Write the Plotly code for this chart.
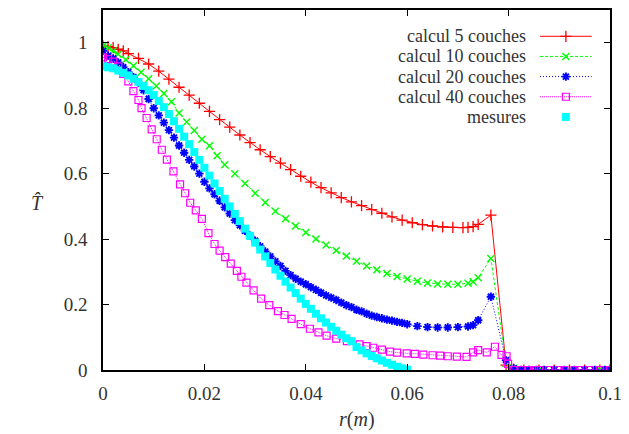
import plotly.graph_objects as go

# ---------------- data ----------------
x_c5 = [0, 0.001, 0.002, 0.003, 0.004, 0.005, 0.007, 0.009, 0.011, 0.013, 0.015, 0.017,
        0.019, 0.021, 0.023, 0.025, 0.027, 0.029, 0.031, 0.033, 0.035, 0.037, 0.039, 0.041,
        0.043, 0.045, 0.047, 0.049, 0.051, 0.053, 0.055, 0.057, 0.059, 0.061, 0.063, 0.065,
        0.067, 0.069, 0.071, 0.072, 0.073, 0.074, 0.0765, 0.0795, 0.081, 0.083, 0.086,
        0.089, 0.092, 0.095, 0.098, 0.1]
y_c5 = [0.99, 0.988, 0.985, 0.98, 0.975, 0.967, 0.952, 0.935, 0.913, 0.889, 0.864, 0.84,
        0.815, 0.79, 0.765, 0.742, 0.718, 0.695, 0.673, 0.652, 0.632, 0.612, 0.592, 0.574,
        0.557, 0.541, 0.527, 0.514, 0.502, 0.49, 0.479, 0.468, 0.458, 0.45, 0.444, 0.44,
        0.437, 0.436, 0.435, 0.436, 0.438, 0.445, 0.473, 0.015, 0.003, 0.0, 0.0,
        0.0, 0.0, 0.0, 0.0, 0.0]

x_c10 = [0, 0.001, 0.002, 0.003, 0.0045, 0.006, 0.0075, 0.009, 0.0105, 0.012, 0.0135, 0.015,
         0.0165, 0.018, 0.0195, 0.021, 0.0225, 0.024, 0.026, 0.028, 0.030, 0.032, 0.034,
         0.036, 0.038, 0.040, 0.042, 0.044, 0.046, 0.048, 0.050, 0.052, 0.054, 0.056,
         0.058, 0.060, 0.062, 0.064, 0.066, 0.068, 0.070, 0.072, 0.073, 0.074, 0.0765,
         0.0795, 0.081, 0.083, 0.086, 0.089, 0.092, 0.095, 0.098, 0.1]
y_c10 = [0.99, 0.985, 0.975, 0.965, 0.948, 0.93, 0.91, 0.89, 0.868, 0.845, 0.82, 0.785,
         0.758, 0.732, 0.705, 0.685, 0.655, 0.627, 0.6, 0.57, 0.54, 0.512, 0.485,
         0.462, 0.44, 0.42, 0.4, 0.382, 0.365, 0.348, 0.332, 0.318, 0.306, 0.295,
         0.286, 0.278, 0.271, 0.266, 0.263, 0.262, 0.262, 0.265, 0.27, 0.282, 0.341,
         0.02, 0.005, 0.0, 0.0, 0.0, 0.0, 0.0, 0.0, 0.0]

x_c20 = [0, 0.001, 0.002, 0.003, 0.004, 0.005, 0.006, 0.007, 0.008, 0.009, 0.010, 0.011,
         0.012, 0.013, 0.014, 0.015, 0.016, 0.017, 0.018, 0.019, 0.020, 0.021, 0.022,
         0.023, 0.024, 0.025, 0.026, 0.027, 0.028, 0.029, 0.030, 0.031, 0.032, 0.033,
         0.034, 0.035, 0.036, 0.037, 0.038, 0.039, 0.040, 0.041, 0.042, 0.043, 0.044,
         0.045, 0.046, 0.047, 0.048, 0.049, 0.050, 0.051, 0.052, 0.053, 0.054, 0.055,
         0.056, 0.057, 0.058, 0.059, 0.060, 0.062, 0.064, 0.066, 0.068, 0.070, 0.072,
         0.073, 0.074, 0.0765, 0.0795, 0.081, 0.0825, 0.084, 0.0855, 0.087, 0.089, 0.091,
         0.093, 0.095, 0.097, 0.099, 0.1]
y_c20 = [0.975, 0.96, 0.952, 0.94, 0.925, 0.91, 0.895, 0.878, 0.855, 0.828, 0.8, 0.778,
         0.756, 0.733, 0.71, 0.686, 0.664, 0.642, 0.622, 0.6, 0.575, 0.555, 0.537,
         0.517, 0.497, 0.478, 0.458, 0.442, 0.425, 0.41, 0.395, 0.378, 0.362, 0.347,
         0.332, 0.318, 0.303, 0.29, 0.279, 0.27, 0.262, 0.253, 0.245, 0.236, 0.228,
         0.221, 0.214, 0.206, 0.198, 0.192, 0.184, 0.179, 0.172, 0.166, 0.162, 0.158,
         0.154, 0.151, 0.147, 0.144, 0.14, 0.134, 0.131, 0.13, 0.13, 0.131, 0.133,
         0.137, 0.152, 0.224, 0.03, 0.005, 0.0, 0.0, 0.0, 0.0, 0.0, 0.0,
         0.0, 0.0, 0.0, 0.0, 0.0]

x_c40 = [0, 0.001, 0.002, 0.003, 0.004, 0.005, 0.006, 0.007, 0.0076, 0.0086, 0.0096, 0.0106,
         0.0116, 0.0126, 0.0139, 0.0152, 0.0162, 0.0172, 0.0183, 0.0195, 0.0208, 0.022,
         0.023, 0.0241, 0.0252, 0.0264, 0.0273, 0.0283, 0.0297, 0.0312, 0.0328, 0.0345,
         0.0358, 0.0372, 0.039, 0.0408, 0.0425, 0.0441, 0.046, 0.0481, 0.0506, 0.052,
         0.0533, 0.055, 0.0566, 0.058, 0.0599, 0.0615, 0.0632, 0.065, 0.0665, 0.068,
         0.0698, 0.0717, 0.073, 0.074, 0.0757, 0.0773, 0.0786, 0.0796, 0.0799, 0.081,
         0.0825, 0.084, 0.085, 0.086, 0.088, 0.09, 0.091, 0.093, 0.094, 0.096, 0.098, 0.1]
y_c40 = [0.955, 0.95, 0.942, 0.928, 0.905, 0.882, 0.852, 0.825, 0.8, 0.77, 0.735, 0.705,
         0.673, 0.643, 0.607, 0.567, 0.54, 0.511, 0.488, 0.462, 0.418, 0.385,
         0.365, 0.345, 0.325, 0.303, 0.285, 0.267, 0.243, 0.218, 0.198, 0.18,
         0.168, 0.156, 0.14, 0.126, 0.115, 0.105, 0.096, 0.088, 0.078, 0.073,
         0.068, 0.062, 0.056, 0.053, 0.051, 0.049, 0.047, 0.045, 0.044, 0.042,
         0.041, 0.04, 0.054, 0.061, 0.054, 0.071, 0.046, 0.042, 0.019, 0.0,
         0.0, 0.0, 0.0, 0.0, 0.0, 0.0, 0.0, 0.0, 0.0, 0.0, 0.0, 0.0]

x_mes = [0, 0.001, 0.002, 0.003, 0.004, 0.005, 0.006, 0.007, 0.008, 0.009, 0.010, 0.011,
         0.012, 0.013, 0.014, 0.015, 0.016, 0.017, 0.018, 0.019, 0.020, 0.021, 0.022,
         0.023, 0.024, 0.025, 0.026, 0.027, 0.028, 0.029, 0.030, 0.031, 0.032, 0.033,
         0.034, 0.035, 0.036, 0.037, 0.038, 0.039, 0.040, 0.041, 0.042, 0.043, 0.044,
         0.045, 0.046, 0.047, 0.048, 0.049, 0.050, 0.051, 0.052, 0.053, 0.054, 0.055,
         0.056, 0.057, 0.058, 0.059, 0.060]
y_mes = [0.928, 0.925, 0.922, 0.915, 0.908, 0.9, 0.89, 0.88, 0.868, 0.855, 0.84, 0.822,
         0.803, 0.782, 0.76, 0.737, 0.713, 0.69, 0.666, 0.642, 0.618, 0.594, 0.57,
         0.547, 0.523, 0.5, 0.477, 0.455, 0.432, 0.41, 0.389, 0.368, 0.347, 0.327,
         0.307, 0.288, 0.27, 0.252, 0.235, 0.218, 0.202, 0.187, 0.172, 0.158, 0.145,
         0.132, 0.12, 0.108, 0.097, 0.088, 0.07, 0.06, 0.051, 0.043, 0.036, 0.029,
         0.022, 0.016, 0.01, 0.005, 0.001]

series_names = ["calcul 5 couches", "calcul 10 couches", "calcul 20 couches",
                "calcul 40 couches", "mesures"]
x_ticks = [0, 0.02, 0.04, 0.06, 0.08, 0.1]
y_ticks = [0, 0.2, 0.4, 0.6, 0.8, 1]

# ---------------- styles ----------------
FONT = "Liberation Serif"
TXT = "#333333"

styles = [
    dict(line=dict(color="#ff0000", width=1),
         marker=dict(symbol="cross-thin", size=8, color="#ff0000",
                     line=dict(color="#ff0000", width=1.3))),
    dict(line=dict(color="#00ff00", width=1, dash="3px,2px"),
         marker=dict(symbol="x-thin", size=7, color="#00ff00",
                     line=dict(color="#00ff00", width=1.4))),
    dict(line=dict(color="#0000ff", width=1, dash="1px,2px"),
         marker=dict(symbol="asterisk-open", size=7, color="#0000ff",
                     line=dict(color="#0000ff", width=1.9))),
    dict(line=dict(color="#ff00ff", width=1, dash="1px,1px"),
         marker=dict(symbol="square-open", size=7, color="#ff00ff",
                     line=dict(color="#ff00ff", width=1.2))),
    dict(marker=dict(symbol="square", size=8, color="#00ffff", line=dict(width=0))),
]
modes = ["lines+markers"] * 4 + ["markers"]
xs = [x_c5, x_c10, x_c20, x_c40, x_mes]
ys = [y_c5, y_c10, y_c20, y_c40, y_mes]

fig = go.Figure()
for name, x, y, st, md in zip(series_names, xs, ys, styles, modes):
    fig.add_trace(go.Scatter(x=x, y=y, name=name, mode=md, showlegend=False, **st))

# ---------------- gnuplot-style key (text right-aligned, sample on the right) ----------------
key_rows = [0.927, 0.871, 0.815, 0.759, 0.703]   # key row positions (fraction of plot height)
key_text_x = 0.838
key_sample = (0.862, 0.913, 0.964)               # sample line start / marker / end
annotations = []
for i, (name, st, md) in enumerate(zip(series_names, styles, modes)):
    yk = key_rows[i]
    if md.startswith("lines"):
        fig.add_trace(go.Scatter(
            x=[key_sample[0], key_sample[2]], y=[yk, yk], mode="lines",
            line=st["line"], xaxis="x2", yaxis="y2", showlegend=False, hoverinfo="skip"))
    fig.add_trace(go.Scatter(
        x=[key_sample[1]], y=[yk], mode="markers", marker=st["marker"],
        xaxis="x2", yaxis="y2", showlegend=False, hoverinfo="skip"))
    annotations.append(dict(text=name, xref="paper", yref="paper", x=key_text_x, y=yk,
                            xanchor="right", yanchor="middle", showarrow=False,
                            font=dict(family=FONT, size=18, color=TXT)))

annotations.append(dict(text="<i>T̂</i>", xref="paper", yref="paper",
                        x=-0.13, y=0.464, xanchor="center", yanchor="middle",
                        showarrow=False, font=dict(family=FONT, size=20, color=TXT)))
annotations.append(dict(text="<i>r</i>(<i>m</i>)", xref="paper", yref="paper",
                        x=0.5, y=-0.138, xanchor="center", yanchor="middle",
                        showarrow=False, font=dict(family=FONT, size=20, color=TXT)))

axis_common = dict(
    showline=True, mirror="ticks", linecolor="black", linewidth=1.5,
    ticks="inside", ticklen=6, tickwidth=1, tickcolor="black",
    showgrid=False, zeroline=False,
    tickfont=dict(family=FONT, size=19, color=TXT),
)

fig.update_layout(
    width=621, height=426,
    margin=dict(l=95, r=19, t=0, b=64),
    paper_bgcolor="white", plot_bgcolor="white",
    showlegend=False,
    font=dict(family=FONT, size=19, color=TXT),
    xaxis=dict(range=[0, 0.1], tickvals=x_ticks,
               ticktext=[f"{v:g}" for v in x_ticks], ticklabelstandoff=5,
               **axis_common),
    yaxis=dict(range=[0, 1.1], tickvals=y_ticks,
               ticktext=[f"{v:g}" for v in y_ticks], ticklabelstandoff=10,
               **axis_common),
    xaxis2=dict(range=[0, 1], overlaying="x", visible=False, fixedrange=True),
    yaxis2=dict(range=[0, 1], overlaying="y", visible=False, fixedrange=True),
    annotations=annotations,
)

fig.write_html("out.html")
